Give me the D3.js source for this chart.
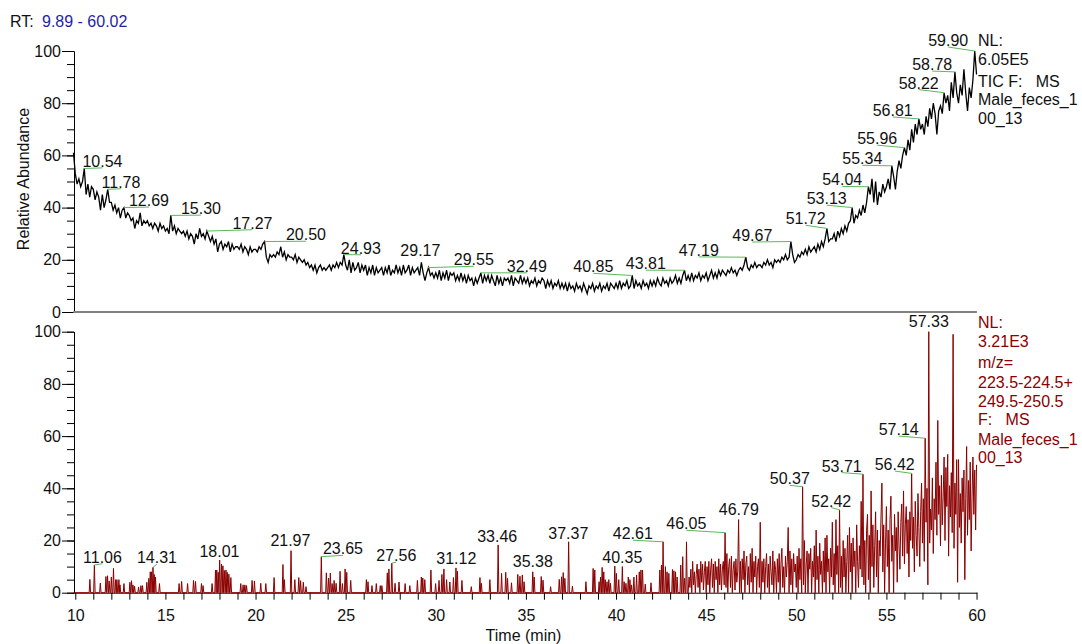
<!DOCTYPE html>
<html><head><meta charset="utf-8">
<script src="https://cdn.jsdelivr.net/npm/d3@7"></script>
<style>
body{margin:0;background:#fff}
svg{display:block}
text{font-family:"Liberation Sans",Arial,Helvetica,sans-serif}
</style>
</head><body>
<svg id="chart" width="1082" height="644"></svg>
<script>
// ---------------- DATA ----------------
const rtRange = [9.89, 60.02];
const rtLabel = "9.89 - 60.02";

// TIC trace (relative abundance), one reading every 0.1 min from 9.9 min
const ticStart = 9.9, ticStep = 0.1;
const ticValues = [
61,
53,49,51,48,50,55,45,49,44,48,
47,43,46,44,39,45,40,43,47,42,
42,39,41,38,40,36,39,40,36,38,
37,35,36,32,35,34,38,33,35,34,
35,33,34,32,34,33,31,34,32,33,
31,32,30,37,31,33,30,32,31,30,
31,29,31,28,30,29,26,30,28,32,
29,30,28,31,29,27,29,26,28,23,
26,27,24,26,25,27,23,26,24,25,
25,24,26,23,25,24,22,25,23,24,
24,23,25,24,26,27,21,19,22,21,
22,21,23,22,25,21,23,20,22,21,
21,20,22,19,21,20,19,20,18,19,
17,18,16,18,15,17,18,16,17,16,
17,18,16,18,17,19,17,19,18,22,
18,16,20,15,19,16,17,19,15,18,
16,18,14,17,15,18,14,17,15,16,
17,14,17,15,18,14,16,15,18,15,
17,14,18,15,16,18,14,17,15,16,
17,14,19,15,12,15,17,14,15,13,
15,13,16,12,15,13,16,12,15,14,
15,12,14,12,15,12,14,11,14,12,
13,10,13,11,13,15,11,14,12,14,
11,14,12,10,14,11,13,10,13,12,
13,11,14,10,13,12,11,14,11,13,
11,13,10,12,11,13,10,12,11,13,
12,9,12,10,12,9,11,10,12,9,
11,9,11,8,11,9,10,8,11,9,
10,8,11,9,7,10,9,11,8,10,
9,11,8,10,9,11,8,11,10,9,
11,9,12,9,11,10,12,9,10,14,
9,12,10,11,9,12,10,11,9,12,
10,12,10,13,11,10,13,11,12,10,
13,11,12,14,11,13,11,14,16,12,
14,12,15,12,14,13,15,12,14,13,
15,12,14,16,13,15,13,16,14,16,
15,14,16,15,17,15,16,14,16,17,
16,18,21,17,16,18,17,19,17,18,
18,17,19,18,20,18,19,17,20,19,
20,19,21,20,22,20,21,27,22,19,
20,22,21,23,22,24,22,25,23,24,
25,23,26,24,27,25,28,32,27,28,
28,30,27,31,29,32,30,33,31,34,
35,40,34,37,36,39,37,41,38,42,
48,45,51,42,50,41,46,44,49,46,
48,51,47,56,52,47,54,58,55,60,
63,60,66,62,70,65,72,68,74,70,
72,68,75,71,78,74,80,76,68,77,
79,76,84,80,83,77,88,82,92,84,
80,87,83,93,84,77,86,82,89,100,
91
];
const ticPeakLabels = ["10.54","11.78","12.69","15.30","17.27","20.50","24.93","29.17","29.55","32.49","40.85","43.81","47.19","49.67","51.72","53.13","54.04","55.34","55.96","56.81","58.22","58.78","59.90"];
const ticLabelAtT = [11.51,12.535,14.09,16.97,19.83,22.795,25.845,29.145,32.11,35.05,38.74,41.65,44.59,47.56,50.52,51.69,52.55,53.66,54.49,55.35,56.79,57.54,58.43];
const ticLabelAtV = [55.6,47.6,40.6,37.5,31.9,27.5,22.3,21.5,17.9,15.4,15.2,16.4,21.5,27.2,33.6,41.3,48.5,56.6,64.3,75.1,85.6,92.7,101.9];
const ticInfo = ["NL:","6.05E5","TIC F:   MS","Male_feces_1","00_13"];

// Extracted ion trace: isolated spikes [time, relative abundance] before 44 min
const sicSpikes = [
[10.81,5.1],[11.06,10.6],[11.39,3.7],[11.70,6.2],[11.79,6.5],[11.88,4.5],[12.00,6],[12.12,9.3],[12.24,5],[12.31,5],[12.42,5],[12.48,3],[12.70,3.5],
[13.03,4],[13.12,4.6],[13.20,3],[13.29,2.5],[13.51,2.2],[13.64,2.7],[13.73,2.7],[13.97,4],[14.08,5.5],[14.16,8],[14.23,8],[14.31,9.7],[14.38,7],[14.45,6],[14.67,3.5],
[15.76,3.5],[15.90,4.3],[16.23,3.5],[16.56,4.7],[16.67,4.3],[17.00,3.5],[17.09,2.7],[17.59,3.5],[17.78,8.7],[17.85,8.7],[17.93,7.8],[18.01,12.5],[18.11,11],[18.19,10.3],
[18.27,8.5],[18.36,8.7],[18.43,7.8],[18.52,7.1],[18.63,5.8],[19.18,3.5],[19.31,3],[19.41,3],[19.50,2.7],[19.81,4.7],[19.94,4.5],[20.29,3.6],[20.57,3.5],[21.03,5.8],
[21.52,10.8],[21.60,5],[21.97,16.1],[22.18,5],[22.40,5.8],[22.50,4.6],[22.65,4],[22.80,2.3],[23.65,13.8],[23.93,7.6],[24.05,5.6],[24.15,7.5],[24.25,3.5],[24.36,4.7],
[24.47,3.6],[24.69,8.2],[24.82,3.5],[24.97,9.1],[25.06,7.8],[25.28,4.7],[26.15,5],[26.24,4.2],[26.46,2.7],[26.70,3.5],[26.92,2.7],[27.01,2.7],[27.31,7.6],[27.40,9.1],
[27.56,11.3],[27.74,3.6],[27.96,4.1],[28.30,3.5],[28.56,2.7],[28.98,4.7],[29.20,6],[29.28,5.6],[29.39,5],[29.73,8.7],[29.99,3.5],[30.18,4.7],[30.34,7],[30.45,9.1],
[30.60,5],[30.78,4.1],[30.98,5.8],[31.12,9.5],[31.20,8.2],[31.45,4.7],[31.97,2.3],[32.45,5.8],[32.53,3.6],[33.00,5],[33.46,18.3],[33.65,7.4],[33.88,7.8],[33.98,5.5],
[34.20,3.8],[34.55,7],[34.67,6.3],[34.80,6.8],[34.90,4.2],[35.38,8],[35.46,6],[35.85,6.2],[35.95,4.8],[36.37,2.3],[36.85,5.1],[36.98,6.1],[37.07,7.7],[37.16,5.5],
[37.37,19.5],[37.58,2.5],[38.33,4.2],[38.73,9.3],[38.82,8.7],[39.06,4.2],[39.14,6],[39.23,9.7],[39.32,8],[39.40,5],[39.50,4.2],[39.60,5],[39.69,3.6],[39.93,10.2],
[40.02,7.4],[40.15,5],[40.35,10],[40.45,4.2],[40.55,3.6],[40.68,6],[40.77,5],[40.86,3],[40.99,6],[41.14,6.8],[41.29,8],[41.38,8.7],[41.47,8.7],[41.62,3.3],[41.94,3.8],
[42.43,8.7],[42.52,10.6],[42.61,19.5],[42.74,10],[42.83,8],[42.93,7.4],[43.13,8.9],[43.21,8.4],[43.30,8],[43.39,6],[43.59,10.6],[43.70,13.8],[43.80,5.5],[43.91,19.5]
];
// Extracted ion trace: continuous readings every 0.05 min from 44 min
const sicDenseStart = 44.0, sicDenseStep = 0.05;
const sicDenseValues = [
0,6,2,9,0,12,3,8,0,7,11,2,9,0,12,4,11,1,8,12,
0,10,3,12,0,9,13,2,11,0,12,5,10,0,13,3,11,1,9,12,
3,23,2,15,0,10,13,2,14,0,9,12,1,13,4,8,28,0,12,0,
13,5,16,0,11,14,3,10,0,15,4,17,0,12,6,14,0,10,13,2,
27,0,12,4,13,0,10,15,2,11,0,14,8,3,16,0,12,9,0,13,
4,15,0,11,17,2,10,0,14,6,12,25,0,16,3,13,0,15,8,11,
2,14,0,17,5,13,0,40.6,3,20,0,11,16,0,15,9,17,0,12,6,
18,0,24,5,14,0,19,7,12,0,16,4,21,0,22,8,13,0,17,6,
27,3,15,0,28,7,18,0,31.7,2,14,0,20,6,17,0,12,22,0,25,
8,19,0,21,10,16,0,26,12,2,18,9,35,6,45.4,3,20,0,24,30,
5,22,0,39,10,26,2,18,31,6,24,0,20,14,29,42,8,26,0,19,
33,10,24,0,28,37,12,22,0,30,16,25,4,31,18,9,27,34,14,39,
11,26,33,15,28,6,31,20,45.7,17,29,8,35,22,14,38,25,10,31,42,
19,36,12,59.2,27,40,3,100,19,32,24,44,15,36,28,50,22,66,30,41,
18,45,26,37,52,20,48,33,53,14,41,29,46,23,99,17,42,30,51,4,
51,25,38,19,44,31,47,5,36,56,22,43,28,50,16,37,52,30,47,24,
49
];
const sicPeakLabels = ["11.06","14.31","18.01","21.97","23.65","27.56","31.12","33.46","35.38","37.37","40.35","42.61","46.05","46.79","50.37","52.42","53.71","56.42","57.14","57.33"];
const sicLabelAtT = [11.51,14.53,18.00,21.935,24.85,27.81,31.14,33.41,35.38,37.35,40.35,40.93,43.90,46.81,49.64,51.94,52.52,55.46,55.68,57.35];
const sicLabelAtV = [11.5,11.3,13.8,17.9,14.7,12.1,10.9,19.4,10,20.7,11.5,20.5,24.3,29.7,41.5,33,46.4,47,60.4,101.7];
const sicInfo = ["NL:","3.21E3","m/z=","223.5-224.5+","249.5-250.5","F:   MS","Male_feces_1","00_13"];

const yMinorTicks = d3.range(0, 101, 5);
const yMajorTicks = [0, 20, 40, 60, 80, 100];
const xMinorTicks = d3.range(10, 61, 1);
const xMajorTicks = [10, 15, 20, 25, 30, 35, 40, 45, 50, 55, 60];

// ---------------- LAYOUT / STYLE ----------------
const FONT = 16;
const C_TIC = "#000000", C_SIC = "#8b0000", C_LEAD = "#5cb85c", C_BLUE = "#1f1fa8";
const svg = d3.select("#chart");
svg.append("rect").attr("width",1082).attr("height",644).attr("fill","#fff");

const x = d3.scaleLinear().domain(rtRange).range([73.3, 976.9]);
const yTop = d3.scaleLinear().domain([0,100]).range([312, 51]);
const yBot = d3.scaleLinear().domain([0,100]).range([592.7, 331.7]);

function yAxis(scale){
  const g = svg.append("g").attr("transform","translate(74,0)");
  g.call(d3.axisLeft(scale).tickValues(yMinorTicks).tickSize(7).tickSizeOuter(0).tickFormat(""));
  const m = svg.append("g").attr("transform","translate(74,0)");
  m.call(d3.axisLeft(scale).tickValues(yMajorTicks).tickSize(12).tickSizeOuter(0).tickPadding(1));
  m.selectAll("text").attr("font-size",FONT).attr("font-family","'Liberation Sans',Arial,sans-serif").attr("fill","#111");
  [g,m].forEach(s=>{ s.selectAll("line").attr("stroke","#000"); s.select(".domain").attr("stroke","#000"); });
}
yAxis(yTop);
yAxis(yBot);

// top panel baseline (grey)
svg.append("line").attr("x1",x(rtRange[0])).attr("x2",x(rtRange[1]))
  .attr("y1",yTop(0)).attr("y2",yTop(0)).attr("stroke","#808080").attr("stroke-width",2);

// bottom x axis
const xa = svg.append("g").attr("transform",`translate(0,${yBot(0)})`)
  .call(d3.axisBottom(x).tickValues(xMinorTicks).tickSize(7).tickSizeOuter(0).tickPadding(10)
    .tickFormat(d => xMajorTicks.includes(d) ? String(d) : ""));
xa.selectAll("text").attr("font-size",FONT).attr("font-family","'Liberation Sans',Arial,sans-serif").attr("fill","#111");
xa.selectAll("line").attr("stroke","#000");
xa.select(".domain").attr("stroke","#000");

// ---------------- TRACES ----------------
const ticPts = ticValues.map((v,i)=>[+(ticStart + i*ticStep).toFixed(2), v]);
const lineTop = d3.line().x(d=>x(d[0])).y(d=>yTop(d[1]));
svg.append("path").datum(ticPts).attr("d",lineTop).attr("fill","none")
  .attr("stroke",C_TIC).attr("stroke-width",1.3).attr("stroke-linejoin","miter");

const hw = 0.04;
const sicPts = [[9.9,0]];
sicSpikes.forEach(([t,h])=>{ sicPts.push([t-hw,0],[t,h],[t+hw,0]); });
sicDenseValues.forEach((v,i)=>sicPts.push([+(sicDenseStart + i*sicDenseStep).toFixed(2), v]));
const lineBot = d3.line().x(d=>x(d[0])).y(d=>yBot(d[1]));
svg.append("path").datum(sicPts).attr("d",lineBot).attr("fill","none")
  .attr("stroke",C_SIC).attr("stroke-width",1).attr("stroke-linejoin","round");

// ---------------- PEAK LABELS ----------------
function peakValue(pts, t, tol){
  let best = null;
  pts.forEach(p=>{ const d=Math.abs(p[0]-t); if(d<=tol && (best===null || p[1]>best)) best=p[1]; });
  if(best===null){ let n=pts[0]; pts.forEach(p=>{ if(Math.abs(p[0]-t)<Math.abs(n[0]-t)) n=p; }); best=n[1]; }
  return best;
}
function drawLabels(labels, atT, atV, pts, y, tol){
  labels.forEach((lab,i)=>{
    const t = +lab, v = peakValue(pts, t, tol);
    const px = x(t), py = y(v), tx = x(atT[i]), ty = y(atV[i]);
    if (Math.abs(tx-px) > 3){
      svg.append("line").attr("x1",px).attr("y1",py).attr("x2",tx).attr("y2",ty+1)
        .attr("stroke",C_LEAD).attr("stroke-width",1);
    }
    svg.append("text").attr("x",tx).attr("y",ty).attr("text-anchor","middle")
      .attr("font-size",FONT).attr("fill","#111").text(lab);
  });
}
drawLabels(ticPeakLabels, ticLabelAtT, ticLabelAtV, ticPts, yTop, 0.06);
drawLabels(sicPeakLabels, sicLabelAtT, sicLabelAtV, sicPts, yBot, 0.03);

// ---------------- TEXT ----------------
const rt = svg.append("text").attr("x",10).attr("y",27).attr("font-size",FONT);
rt.append("tspan").attr("fill","#111").text("RT:");
rt.append("tspan").attr("x",42).attr("fill",C_BLUE).text(rtLabel);

svg.append("text").attr("transform","translate(29,179) rotate(-90)").attr("text-anchor","middle")
  .attr("font-size",FONT).attr("fill","#111").text("Relative Abundance");

svg.append("text").attr("x",523.5).attr("y",641).attr("text-anchor","middle")
  .attr("font-size",FONT).attr("fill","#111").text("Time (min)");

const ticInfoY = [46, 65.3, 86.7, 105.3, 124.3];
ticInfo.forEach((s,i)=>svg.append("text").attr("x",978).attr("y",ticInfoY[i])
  .attr("font-size",FONT).attr("fill","#111").style("white-space","pre").text(s));
const sicInfoY = [327.7, 346.7, 368.3, 387.7, 406.7, 425.3, 445.3, 463.3];
sicInfo.forEach((s,i)=>svg.append("text").attr("x",978).attr("y",sicInfoY[i])
  .attr("font-size",FONT).attr("fill",C_SIC).style("white-space","pre").text(s));
</script>
</body></html>
